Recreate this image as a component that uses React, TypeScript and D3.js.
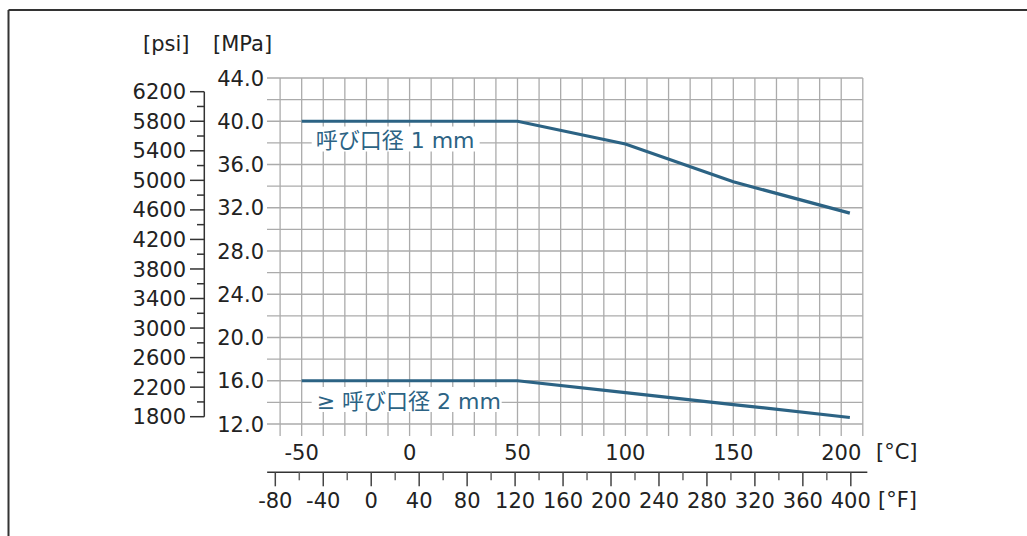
import React from "react";
import * as d3 from "d3";

const tempC = [-50, 50, 100, 150, 204];
const pressureDN1 = [40, 40, 37.9, 34.4, 31.5];
const pressureDN2 = [16, 16, 14.9, 13.8, 12.6];
const seriesLabels = ["呼び口径 1 mm", "≥ 呼び口径 2 mm"];

const celsiusTicks = [-50, 0, 50, 100, 150, 200];
const fahrenheitTicks = [-80, -40, 0, 40, 80, 120, 160, 200, 240, 280, 320, 360, 400];
const mpaTicks = [12, 16, 20, 24, 28, 32, 36, 40, 44];
const psiTicks = [1800, 2200, 2600, 3000, 3400, 3800, 4200, 4600, 5000, 5400, 5800, 6200];

const FONT = "'DejaVu Sans', 'Noto Sans CJK JP', sans-serif";
const LINE = "#2c6384";
const GRID = "#ababab";
const TEXT = "#222";

export default function App() {
  const x = d3.scaleLinear().domain([-60, 210]).range([280.1, 862.8]);
  const y = d3.scaleLinear().domain([12, 44]).range([424, 78]);
  const yPsi = d3.scaleLinear().domain([1800, 6200]).range([416.7, 91.7]);
  const fToC = (f: number) => ((f - 32) * 5) / 9;

  const gridX = d3.range(-60, 211, 10);
  const gridY = d3.range(12, 45, 2);
  const psiMinor = d3.range(2000, 6100, 400);
  const fMinor = d3.range(-60, 401, 40);

  const line = d3
    .line<[number, number]>()
    .x((d) => x(d[0]))
    .y((d) => y(d[1]));
  const d1 = line(tempC.map((t, i) => [t, pressureDN1[i]]));
  const d2 = line(tempC.map((t, i) => [t, pressureDN2[i]]));

  const psiX = 204.3;
  const fAxisY = 472.3;

  const labelFont = 22;
  const lab1X = x(-50) + 14;
  const lab1Y = y(37.6);
  const lab2X = x(-50) + 15;
  const lab2Y = y(14.6);

  return (
    <svg
      width={1027}
      height={536}
      style={{ position: "absolute", left: 0, top: 0 }}
      fontFamily={FONT}
    >
      <rect x={0} y={0} width={1027} height={536} fill="#fff" />
      {/* frame */}
      <line x1={8.5} x2={1027} y1={10} y2={10} stroke="#333" strokeWidth={2} />
      <line x1={8.5} x2={8.5} y1={10} y2={536} stroke="#333" strokeWidth={2} />

      {/* grid */}
      {gridY.map((v) => (
        <line key={"gy" + v} x1={267} x2={x(210)} y1={y(v)} y2={y(v)} stroke={GRID} strokeWidth={1.3} />
      ))}
      {gridX.map((v) => (
        <line key={"gx" + v} x1={x(v)} x2={x(v)} y1={y(44)} y2={y(12) + 12} stroke={GRID} strokeWidth={1.3} />
      ))}

      {/* MPa labels */}
      {mpaTicks.map((v) => (
        <text key={"m" + v} x={264} y={y(v)} dy="0.36em" textAnchor="end" fontSize={21} fill={TEXT}>
          {v.toFixed(1)}
        </text>
      ))}
      <text x={213} y={51} fontSize={21} fill={TEXT}>[MPa]</text>

      {/* psi axis */}
      <line x1={psiX} x2={psiX} y1={yPsi(6200)} y2={yPsi(1800)} stroke="#333" strokeWidth={1.5} />
      {psiTicks.map((v) => (
        <g key={"p" + v}>
          <line x1={190} x2={psiX} y1={yPsi(v)} y2={yPsi(v)} stroke="#333" strokeWidth={1.5} />
          <text x={186} y={yPsi(v)} dy="0.36em" textAnchor="end" fontSize={21} fill={TEXT}>
            {v}
          </text>
        </g>
      ))}
      {psiMinor.map((v) => (
        <line key={"pm" + v} x1={197} x2={psiX} y1={yPsi(v)} y2={yPsi(v)} stroke="#333" strokeWidth={1.5} />
      ))}
      <text x={143} y={51} fontSize={21} fill={TEXT}>[psi]</text>

      {/* Celsius labels */}
      {celsiusTicks.map((v) => (
        <text key={"c" + v} x={x(v)} y={460} textAnchor="middle" fontSize={21} fill={TEXT}>
          {v}
        </text>
      ))}
      <text x={876} y={459} fontSize={21} fill={TEXT}>[°C]</text>

      {/* Fahrenheit axis */}
      <line x1={x(-66)} x2={x(212.1)} y1={fAxisY} y2={fAxisY} stroke="#333" strokeWidth={1.5} />
      {fahrenheitTicks.map((v) => (
        <g key={"f" + v}>
          <line x1={x(fToC(v))} x2={x(fToC(v))} y1={fAxisY} y2={fAxisY + 14} stroke="#444" strokeWidth={1.5} />
          <text x={x(fToC(v))} y={508} textAnchor="middle" fontSize={21} fill={TEXT}>
            {v}
          </text>
        </g>
      ))}
      {fMinor.map((v) => (
        <line key={"fm" + v} x1={x(fToC(v))} x2={x(fToC(v))} y1={fAxisY} y2={fAxisY + 8} stroke="#666" strokeWidth={1.5} />
      ))}
      <text x={878} y={507} fontSize={21} fill={TEXT}>[°F]</text>

      {/* series */}
      <path d={d1 || ""} fill="none" stroke={LINE} strokeWidth={3.2} />
      <path d={d2 || ""} fill="none" stroke={LINE} strokeWidth={3.2} />

      {/* series labels with white backing */}
      <rect x={lab1X - 4} y={126.5} width={168} height={25} fill="#fff" />
      <text x={lab1X} y={148} fontSize={labelFont} fill={LINE}>{seriesLabels[0]}</text>
      <rect x={lab2X - 5} y={387} width={190} height={25} fill="#fff" />
      <text x={lab2X} y={409} fontSize={labelFont} fill={LINE}>{seriesLabels[1]}</text>
    </svg>
  );
}
